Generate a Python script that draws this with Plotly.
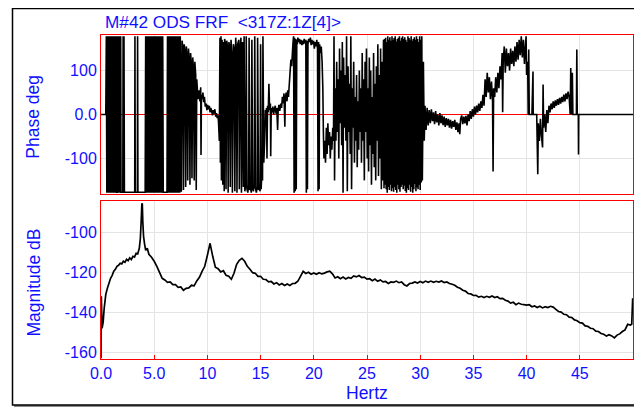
import plotly.graph_objects as go

# ---------------- data ----------------
# phase, 0 - 7.45 Hz (dense wrapping bands)
phase_freq_a = [
    0.0, 0.45,
    0.5, 0.55, 0.6, 0.65, 0.7, 0.75, 0.8, 0.85, 0.9, 0.95,
    1.0, 1.05, 1.1, 1.15, 1.2, 1.25, 1.3, 1.35, 1.4,
    1.45, 1.52,
    1.55, 1.6, 1.65, 1.7, 1.75, 1.8, 1.85,
    1.88, 2.05, 2.08, 2.12, 2.16, 2.2, 3.17, 3.19, 3.22, 3.42, 3.44, 3.47, 4.15,
    4.2, 4.25, 4.3, 4.35, 4.4, 4.45, 4.5, 4.55, 4.6, 4.65,
    4.7, 4.75, 4.8, 4.85, 4.9, 4.95, 5.0, 5.05, 5.1, 5.15,
    5.2, 5.25, 5.3, 5.35, 5.4, 5.45, 5.5, 5.55, 5.6, 5.65,
    5.7, 5.75, 5.8,
    5.85, 6.2,
    6.25, 6.3, 6.35, 6.4, 6.45, 6.5, 6.55, 6.6, 6.65, 6.7,
    6.75, 6.8, 6.85, 6.9, 6.95, 7.0, 7.05, 7.1, 7.15, 7.2,
    7.25, 7.3, 7.35, 7.4, 7.45,
]
phase_deg_a = [
    0, 0,
    178, -178, 178, -178, 178, -178, 178, -178, 178, -178,
    178, -178, 178, -178, 178, -178, 178, -178, 178,
    -177, -177,
    178, -178, 178, -178, 178, -178, 178,
    -177, -177, 178, -177, 178, -177, -177, 178, -177, -177, 178, -177, -177,
    178, -178, 178, -178, 178, -178, 178, -178, 178, -178,
    178, -178, 178, -178, 178, -178, 178, -178, 178, -178,
    178, -178, 178, -178, 178, -178, 178, -178, 178, -178,
    178, -178, 178,
    -177, -177,
    178, -178, 178, -178, 178, -178, 178, -178, 178, -178,
    178, -178, 178, -178, 178, -178, 178, -178, 178, -178,
    178, -178, 178, -178, 178,
]

# phase, 7.55 - 26.55 Hz
phase_freq_b = [
    7.55, 7.62, 7.7, 7.75, 7.82, 7.9, 7.96, 8.02,
    8.1, 8.15, 8.22, 8.3, 8.36, 8.42, 8.5, 8.55, 8.62, 8.7,
    8.76, 8.82, 8.9, 8.95, 9.0, 9.05, 9.1, 9.15, 9.22, 9.3,
    9.37, 9.4, 9.44, 9.5, 9.58, 9.65, 9.72, 9.8, 9.88, 9.95,
    10.02, 10.1, 10.18, 10.25, 10.32, 10.4, 10.48, 10.55, 10.62, 10.7,
    10.78, 10.85, 10.92, 11.0, 11.05, 11.12, 11.18, 11.22, 11.28, 11.32,
    11.38, 11.45, 11.5, 11.58, 11.62, 11.7, 11.75, 11.82, 11.9, 11.95,
    12.02, 12.1, 12.15, 12.22, 12.3, 12.35, 12.45, 12.52, 12.58, 12.66,
    12.72, 12.78, 12.85, 12.95, 13.0, 13.08, 13.15, 13.2, 13.3, 13.38,
    13.45, 13.52, 13.6, 13.65, 13.72, 13.8, 13.88, 13.92, 13.98, 14.05,
    14.12, 14.18, 14.25, 14.32, 14.4, 14.45, 14.52, 14.6, 14.68, 14.72,
    14.8, 14.88, 14.95, 15.0, 15.05, 15.12, 15.18, 15.22, 15.3, 15.38,
    15.45, 15.5, 15.55, 15.6, 15.65, 15.72, 15.78, 15.85, 15.92, 15.95,
    16.0, 16.08, 16.15, 16.22, 16.3, 16.38, 16.45, 16.52, 16.6, 16.65,
    16.72, 16.8, 16.9, 16.97, 17.05, 17.12, 17.2, 17.28, 17.32, 17.4,
    17.48, 17.55, 17.62, 17.7, 17.78, 17.85, 17.92, 18.0, 18.05, 18.1,
    18.15, 18.2, 18.25, 18.3, 18.35, 18.4, 18.45, 18.5, 18.58, 18.65,
    18.72, 18.8, 18.88, 18.95, 19.02, 19.1, 19.18, 19.25, 19.3, 19.35,
    19.4, 19.45, 19.52, 19.6, 19.68, 19.75, 19.82, 19.9, 19.98, 20.05,
    20.12, 20.2, 20.28, 20.35, 20.4, 20.45, 20.5, 20.55, 20.62, 20.7,
    20.78, 20.85, 20.9, 20.95, 21.02, 21.1, 21.18, 21.25, 21.32, 21.4,
    21.48, 21.55, 21.62, 21.7, 21.78, 21.85, 21.9, 21.95, 22.02, 22.08,
    22.15, 22.22, 22.28, 22.35, 22.42, 22.48, 22.55, 22.62, 22.68, 22.75,
    22.8, 22.88, 22.95, 23.02, 23.08, 23.15, 23.22, 23.28, 23.35, 23.42,
    23.48, 23.55, 23.62, 23.68, 23.75, 23.82, 23.88, 23.95, 24.02, 24.08,
    24.15, 24.22, 24.28, 24.35, 24.42, 24.48, 24.55, 24.62, 24.68, 24.75,
    24.82, 24.88, 24.95, 25.02, 25.08, 25.15, 25.22, 25.28, 25.35, 25.42,
    25.48, 25.55, 25.62, 25.68, 25.75, 25.82, 25.88, 25.95, 26.02, 26.08,
    26.15, 26.22, 26.28, 26.35, 26.42, 26.48, 26.55,
]
phase_deg_b = [
    -176, 168, 150, -172, 160, 140, -165, 155,
    130, -150, 150, 120, -160, 140, 110, -145, 130, 100,
    -150, 120, 90, -172, 80, 60, 35, 40, 55, 30,
    62, -92, 45, 35, 50, 28, 40, 18, 25, 10,
    22, 12, 20, 5, 15, 8, -2, 10, 2, 12,
    -5, 3, -8, -2, -20, -60, 175, -110, 178, -150,
    170, -160, 165, -175, 172, 160, -170, 168, 150, -178,
    165, 155, -165, 170, 140, -178, 160, 150, -175, 175,
    145, -178, 160, 170, -170, 150, 175, -178, 165, -165,
    178, -175, -160, 178, -170, -178, -160, 175, -172, -165,
    -178, 170, -170, -175, -160, 178, -168, -178, -165, 175,
    -172, -160, -175, 160, -170, -130, -150, 178, -110, -60,
    10, -20, 15, -100, 20, 5, 70, 10, 25, -95,
    15, 5, 18, 0, 12, 20, 2, 15, -35, 10,
    22, 8, 25, 15, 40, 25, 48, -28, 35, 50,
    30, 55, 40, 70, 100, 125, 110, 145, 165, 178,
    -178, 175, -175, 172, -170, 170, 160, 175, 165, 172,
    160, 170, 158, 168, 160, 172, 162, 170, -178, 168,
    -170, 160, 172, 165, 175, 158, 170, 160, 168, 150,
    165, 155, 170, 150, -175, 165, -170, 160, 140, 155,
    120, 60, -40, -100, -60, -110, -30, -90, -20, -70,
    -40, -100, -50, -80, -30, -60, 178, -150, 60, -60,
    120, -40, 80, -100, 150, -20, 100, -70, 165, -178,
    130, -30, 90, -60, 178, -175, 110, -40, 70, -90,
    178, -170, 60, -30, 120, -110, 40, -60, 90, -120,
    30, -80, 100, -40, 60, -110, 140, -60, 80, -150,
    120, -40, 150, -100, 60, -130, 130, -70, 100, -160,
    40, -90, 140, -120, 70, -150, 110, -60, 160, -140,
    90, -100, 150, -170, 120, -150, 170,
]

# phase, 26.6 - 30.2 Hz (dense wrapping band)
phase_freq_c = [
    26.6, 26.65, 26.7, 26.75, 26.8, 26.85, 26.9, 26.95, 27.0, 27.05,
    27.1, 27.15, 27.2, 27.25, 27.3, 27.35, 27.4, 27.45, 27.5, 27.55,
    27.6, 27.65, 27.7, 27.75, 27.8, 27.85, 27.9, 27.95, 28.0, 28.05,
    28.1, 28.15, 28.2, 28.25, 28.3, 28.35, 28.4, 28.45, 28.5, 28.55,
    28.6, 28.65, 28.7, 28.75, 28.8, 28.85, 28.9, 28.95, 29.0, 29.05,
    29.1, 29.15, 29.2, 29.25, 29.3, 29.35, 29.4, 29.45, 29.5, 29.55,
    29.6, 29.65, 29.7, 29.75, 29.8, 29.85, 29.9, 29.95, 30.0, 30.05,
    30.1, 30.15, 30.2,
]
phase_deg_c = [
    -168, 172, -160, 175, -170, 165, -178, 178, -165, 170,
    -172, 176, -160, 168, -175, 178, -168, 170, -176, 174,
    -165, 178, -172, 166, -178, 172, -160, 175, -170, 178,
    -176, 168, -165, 175, -160, 178, -170, 172, -162, 176,
    -174, 170, -178, 165, -168, 178, -172, 174, -160, 170,
    -176, 178, -165, 168, -178, 172, -170, 176, -158, 170,
    -175, 178, -166, 172, -170, 165, -160, 178, -172, 170,
    -155, 178, -150,
]

# phase, 30.3 - 50 Hz
phase_freq_d = [
    30.3, 30.38, 30.45, 30.55, 30.65, 30.75,
    30.85, 30.95, 31.05, 31.15, 31.25, 31.35, 31.45, 31.55, 31.65, 31.75,
    31.85, 31.95, 32.05, 32.15, 32.25, 32.35, 32.45, 32.55, 32.65, 32.75,
    32.85, 32.95, 33.05, 33.15, 33.25, 33.35, 33.45, 33.55, 33.65, 33.72,
    33.8, 33.9, 34.0, 34.1, 34.2, 34.3, 34.4, 34.5, 34.6, 34.7,
    34.8, 34.9, 35.0, 35.1, 35.2, 35.3, 35.4, 35.5, 35.6, 35.7,
    35.8, 35.9, 36.0, 36.1, 36.2, 36.3, 36.4, 36.5, 36.6, 36.7,
    36.8, 36.85, 36.9, 37.0, 37.1, 37.2, 37.3, 37.4, 37.5, 37.6,
    37.7, 37.75, 37.8, 37.9, 38.0, 38.1, 38.2, 38.3, 38.4, 38.5,
    38.6, 38.7, 38.8, 38.9, 39.0, 39.1, 39.2, 39.3, 39.4, 39.5,
    39.6, 39.7, 39.8, 39.9, 39.95, 40.0, 40.1, 40.15, 40.2, 40.25,
    40.5, 40.6, 40.62, 40.95, 41.05, 41.1, 41.2, 41.3, 41.4, 41.5,
    41.55, 41.6, 41.7, 41.8, 41.9, 42.0, 42.1, 42.2, 42.3, 42.4,
    42.5, 42.6, 42.7, 42.8, 42.9, 43.0, 43.1, 43.2, 43.3, 43.4,
    43.5, 43.6, 43.7, 43.8, 43.9, 44.0, 44.1, 44.15, 44.2, 44.3,
    44.35, 44.68, 44.72, 44.76, 44.86, 44.88, 44.9, 50.0,
]
phase_deg_d = [
    120, -60, 20, -35, 15, -25,
    10, -20, 12, -15, 5, -22, 8, -18, 0, -25,
    3, -20, -2, -24, -5, -28, -8, -25, -10, -30,
    -12, -32, -15, -28, -12, -35, -18, -40, -20, -45,
    -10, -2, -22, -5, -20, -3, -25, 0, -15, 8,
    -10, 12, -5, 18, 0, 20, 5, 25, 8, 30,
    15, 45, 20, 80, 40, 95, 50, 85, 35, 75,
    30, -130, 60, 40, 85, 50, 95, 60, 110, 80,
    140, 5, 120, 155, 95, 150, 110, 140, 100, 150,
    115, 145, 110, 155, 120, 165, 125, 170, 135, 178,
    130, 170, 115, 160, 178, 90, 120, 0, 148, 0,
    0, 98, 0, 0, -136, -20, -60, -10, -50, -75,
    68, -30, 0, -40, 10, -20, 20, 5, 25, 12,
    30, 15, 32, 20, 35, 22, 38, 25, 40, 28,
    45, 30, 48, 35, 52, 40, 0, 106, 0, 95,
    0, 0, 148, 0, 0, -91, 0, 0,
]

mag_freq = [
    0.0, 0.03, 0.1, 0.2, 0.3, 0.45, 0.6, 0.75, 0.9, 1.05,
    1.2, 1.35, 1.5, 1.65, 1.8, 1.95, 2.1, 2.25, 2.4, 2.55,
    2.7, 2.85, 3.0, 3.15, 3.3, 3.45, 3.6, 3.7, 3.78, 3.84,
    3.88, 3.93, 4.0, 4.1, 4.2, 4.35,
    4.5, 4.75,
    5.0, 5.25, 5.5, 5.75, 6.0, 6.25, 6.5, 6.75,
    7.0, 7.25, 7.5, 7.75, 8.0, 8.25, 8.5, 8.75,
    9.0, 9.25, 9.5, 9.75, 10.0, 10.25, 10.5, 10.75,
    11.0, 11.25, 11.5, 11.75, 12.0, 12.25, 12.5, 12.75,
    13.0, 13.25, 13.5, 13.75, 14.0, 14.25, 14.5, 14.75,
    15.0, 15.25, 15.5, 15.75, 16.0, 16.25, 16.5, 16.75,
    17.0, 17.25, 17.5, 17.75, 18.0, 18.25, 18.5, 18.75,
    19.0, 19.25, 19.5, 19.75, 20.0, 20.25, 20.5, 20.75,
    21.0, 21.25, 21.5, 21.75, 22.0, 22.25, 22.5, 22.75,
    23.0, 23.25, 23.5, 23.75, 24.0, 24.25, 24.5, 24.75,
    25.0, 25.25, 25.5, 25.75, 26.0, 26.25, 26.5, 26.75,
    27.0, 27.25, 27.5, 27.75, 28.0, 28.25, 28.5, 28.75,
    29.0, 29.25, 29.5, 29.75, 30.0, 30.25, 30.5, 30.75,
    31.0, 31.25, 31.5, 31.75, 32.0, 32.25, 32.5, 32.75,
    33.0, 33.25, 33.5, 33.75, 34.0, 34.25, 34.5, 34.75,
    35.0, 35.25, 35.5, 35.75, 36.0, 36.25, 36.5, 36.75,
    37.0, 37.25, 37.5, 37.75, 38.0, 38.25, 38.5, 38.75,
    39.0, 39.25, 39.5, 39.75, 40.0, 40.25, 40.5, 40.75,
    41.0, 41.25, 41.5, 41.75, 42.0, 42.25, 42.5, 42.75,
    43.0, 43.25, 43.5, 43.75, 44.0, 44.25, 44.5, 44.75,
    45.0, 45.25, 45.5, 45.75, 46.0, 46.25, 46.5, 46.75,
    47.0, 47.25, 47.5, 47.75, 48.0, 48.25, 48.5, 48.75,
    49.0, 49.25, 49.5, 49.75, 49.88, 49.97,
]
mag_db = [
    -163, -132, -148, -145, -138, -131, -128, -125.5, -123, -121.5,
    -119.5, -118.5, -117, -116.5, -115.5, -115.8, -114.5, -115, -113.5, -114.2,
    -112.8, -113.6, -112, -112.4, -110.5, -110.8, -108, -103, -94, -86,
    -85.5, -95, -102, -106, -109, -108,
    -111, -112.5,
    -114.5, -117, -120, -123, -123.8, -125, -124.8, -126.2,
    -126.2, -127.5, -127.3, -129, -128, -127.8, -126.5, -126.8,
    -124.3, -122.5, -119.5, -117, -111.5, -105.5, -112, -117.5,
    -118.2, -119.8, -119.2, -121.5, -122, -123.5, -120.5, -116,
    -114, -113, -114.5, -117, -118.5, -120.2, -120.5, -122,
    -122, -123.5, -123.6, -124.8, -124.6, -125.8, -125.2, -126.3,
    -125.6, -126.6, -125.8, -126.6, -125.6, -125.5, -124.5, -122,
    -119.5, -120.6, -120, -121, -120.3, -121, -120.2, -120.8,
    -120.4, -119.8, -119.4, -120.8, -122.8, -122.2, -123.2, -122.4,
    -123.3, -122.6, -123, -121.8, -122.3, -121.6, -122.6, -122.4,
    -123.4, -123.2, -124.2, -123.4, -124.5, -123.8, -124.8, -124.6,
    -125.6, -124.8, -125, -124.4, -125.2, -124.8, -126.2, -126.8,
    -125.6, -125.4, -124.8, -125.4, -124.6, -125.2, -124.4, -125,
    -124.4, -125, -124.5, -124.9, -124.3, -125.1, -124.8, -125.6,
    -126, -126.5, -127.5, -128, -129, -129.4, -130.6, -130.8,
    -131.6, -131.5, -132.4, -132, -132.6, -132, -132.5, -131.8,
    -132.6, -132.2, -133.2, -133, -134, -134.4, -135.4, -135,
    -136.2, -135.4, -136, -136.2, -136.4, -136.2, -137.2, -136.8,
    -137.6, -137, -137.8, -137.2, -137.6, -137, -137.4, -138.5,
    -139.6, -139.9, -141, -141.2, -142.4, -142.6, -143.8, -144.2,
    -145.2, -145.4, -146.8, -147, -148, -148.2, -149.4, -149.6,
    -150.6, -151, -151.9, -151.2, -151.8, -152.8, -151.4, -150.8,
    -149.6, -148.8, -146, -146.4, -146, -133,
]

x_tick_vals = [0, 5, 10, 15, 20, 25, 30, 35, 40, 45]
x_tick_text = ["0.0", "5.0", "10", "15", "20", "25", "30", "35", "40", "45"]
phase_tick_vals = [-100, 0, 100]
phase_tick_text = ["-100", "0.0", "100"]
mag_tick_vals = [-160, -140, -120, -100]
mag_tick_text = ["-160", "-140", "-120", "-100"]

title_text = "M#42 ODS FRF  <317Z:1Z[4]>"

phase_freq = phase_freq_a + phase_freq_b + phase_freq_c + phase_freq_d
phase_deg = phase_deg_a + phase_deg_b + phase_deg_c + phase_deg_d
assert len(phase_freq_a) == len(phase_deg_a)
assert len(phase_freq_b) == len(phase_deg_b)
assert len(phase_freq_c) == len(phase_deg_c)
assert len(phase_freq_d) == len(phase_deg_d)
assert len(mag_freq) == len(mag_db)

# ---------------- figure ----------------
# the page body has an 8px margin, so the figure is 8px smaller and all
# positions below are given in page pixels
OFF = 8
W, H = 642 - OFF, 407 - OFF
PL, PR, PT, PB = 101, 633, 35, 359          # plot block in page pixels
L, T = PL - OFF, PT - OFF
R, B = W - (PR - OFF), H - (PB - OFF)
PW, PH = PR - PL, PB - PT


def px(xp):
    return (xp - PL) / PW


def py(yp):
    return (PB - yp) / PH


FONT = "Liberation Sans, Arial, sans-serif"
BLUE = "#1010ff"
GRID = "#e4e4e4"

fig = go.Figure()
fig.add_trace(go.Scatter(x=phase_freq, y=phase_deg, mode="lines",
                         line=dict(color="black", width=1.6, simplify=False),
                         xaxis="x", yaxis="y", showlegend=False,
                         hoverinfo="skip"))
fig.add_trace(go.Scatter(x=mag_freq, y=mag_db, mode="lines",
                         line=dict(color="black", width=1.7, simplify=False),
                         xaxis="x2", yaxis="y2", showlegend=False,
                         hoverinfo="skip"))

common_x = dict(range=[0, 50], showgrid=True, gridcolor=GRID, gridwidth=1,
                tickvals=x_tick_vals, showline=True, mirror=True,
                linecolor="red", linewidth=1, zeroline=False)

fig.update_layout(
    width=W, height=H,
    margin=dict(l=L, r=R, t=T, b=B, pad=0),
    paper_bgcolor="white", plot_bgcolor="white",
    font=dict(family=FONT, color=BLUE),
    xaxis=dict(**common_x, anchor="y", showticklabels=False, ticks=""),
    xaxis2=dict(**common_x, anchor="y2", ticktext=x_tick_text,
                ticks="inside", ticklen=4, tickcolor="red",
                tickfont=dict(family=FONT, size=16, color=BLUE)),
    yaxis=dict(domain=[py(194), 1.0], range=[-181, 181],
               tickvals=phase_tick_vals, ticktext=phase_tick_text,
               showgrid=True, gridcolor=GRID, zeroline=True,
               zerolinecolor="red", zerolinewidth=1,
               showline=True, mirror=True, linecolor="red", linewidth=1,
               ticks="", tickfont=dict(family=FONT, size=16, color=BLUE)),
    yaxis2=dict(domain=[0.0, py(201)], range=[-163.35, -84.35],
                tickvals=mag_tick_vals, ticktext=mag_tick_text,
                showgrid=True, gridcolor=GRID, zeroline=False,
                showline=True, mirror=True, linecolor="red", linewidth=1,
                ticks="", tickfont=dict(family=FONT, size=16, color=BLUE)),
    annotations=[
        dict(text=title_text, xref="paper", yref="paper", x=px(103), y=py(22),
             xanchor="left", yanchor="middle", showarrow=False,
             font=dict(family=FONT, size=17.2, color=BLUE)),
        dict(text="Phase deg", xref="paper", yref="paper", x=px(33), y=py(116.7),
             xanchor="center", yanchor="middle", textangle=-90, showarrow=False,
             font=dict(family=FONT, size=17.5, color=BLUE)),
        dict(text="Magnitude dB", xref="paper", yref="paper", x=px(33), y=py(282.5),
             xanchor="center", yanchor="middle", textangle=-90, showarrow=False,
             font=dict(family=FONT, size=17.5, color=BLUE)),
        dict(text="Hertz", xref="paper", yref="paper", x=px(366.7), y=py(393),
             xanchor="center", yanchor="middle", showarrow=False,
             font=dict(family=FONT, size=17.5, color=BLUE)),
    ],
    shapes=[
        dict(type="line", xref="paper", yref="paper", layer="above",
             x0=px(639.5), x1=px(639.5), y0=py(10), y1=py(406.5),
             line=dict(color="#8a8a8a", width=2)),
        dict(type="line", xref="paper", yref="paper", layer="above",
             x0=px(14), x1=px(640), y0=py(406), y1=py(406),
             line=dict(color="#8a8a8a", width=2)),
        dict(type="rect", xref="paper", yref="paper", layer="above",
             x0=px(12.5), x1=px(637.5), y0=py(405), y1=py(8.5),
             line=dict(color="black", width=1.5)),
    ],
)

fig.write_html("out.html")
